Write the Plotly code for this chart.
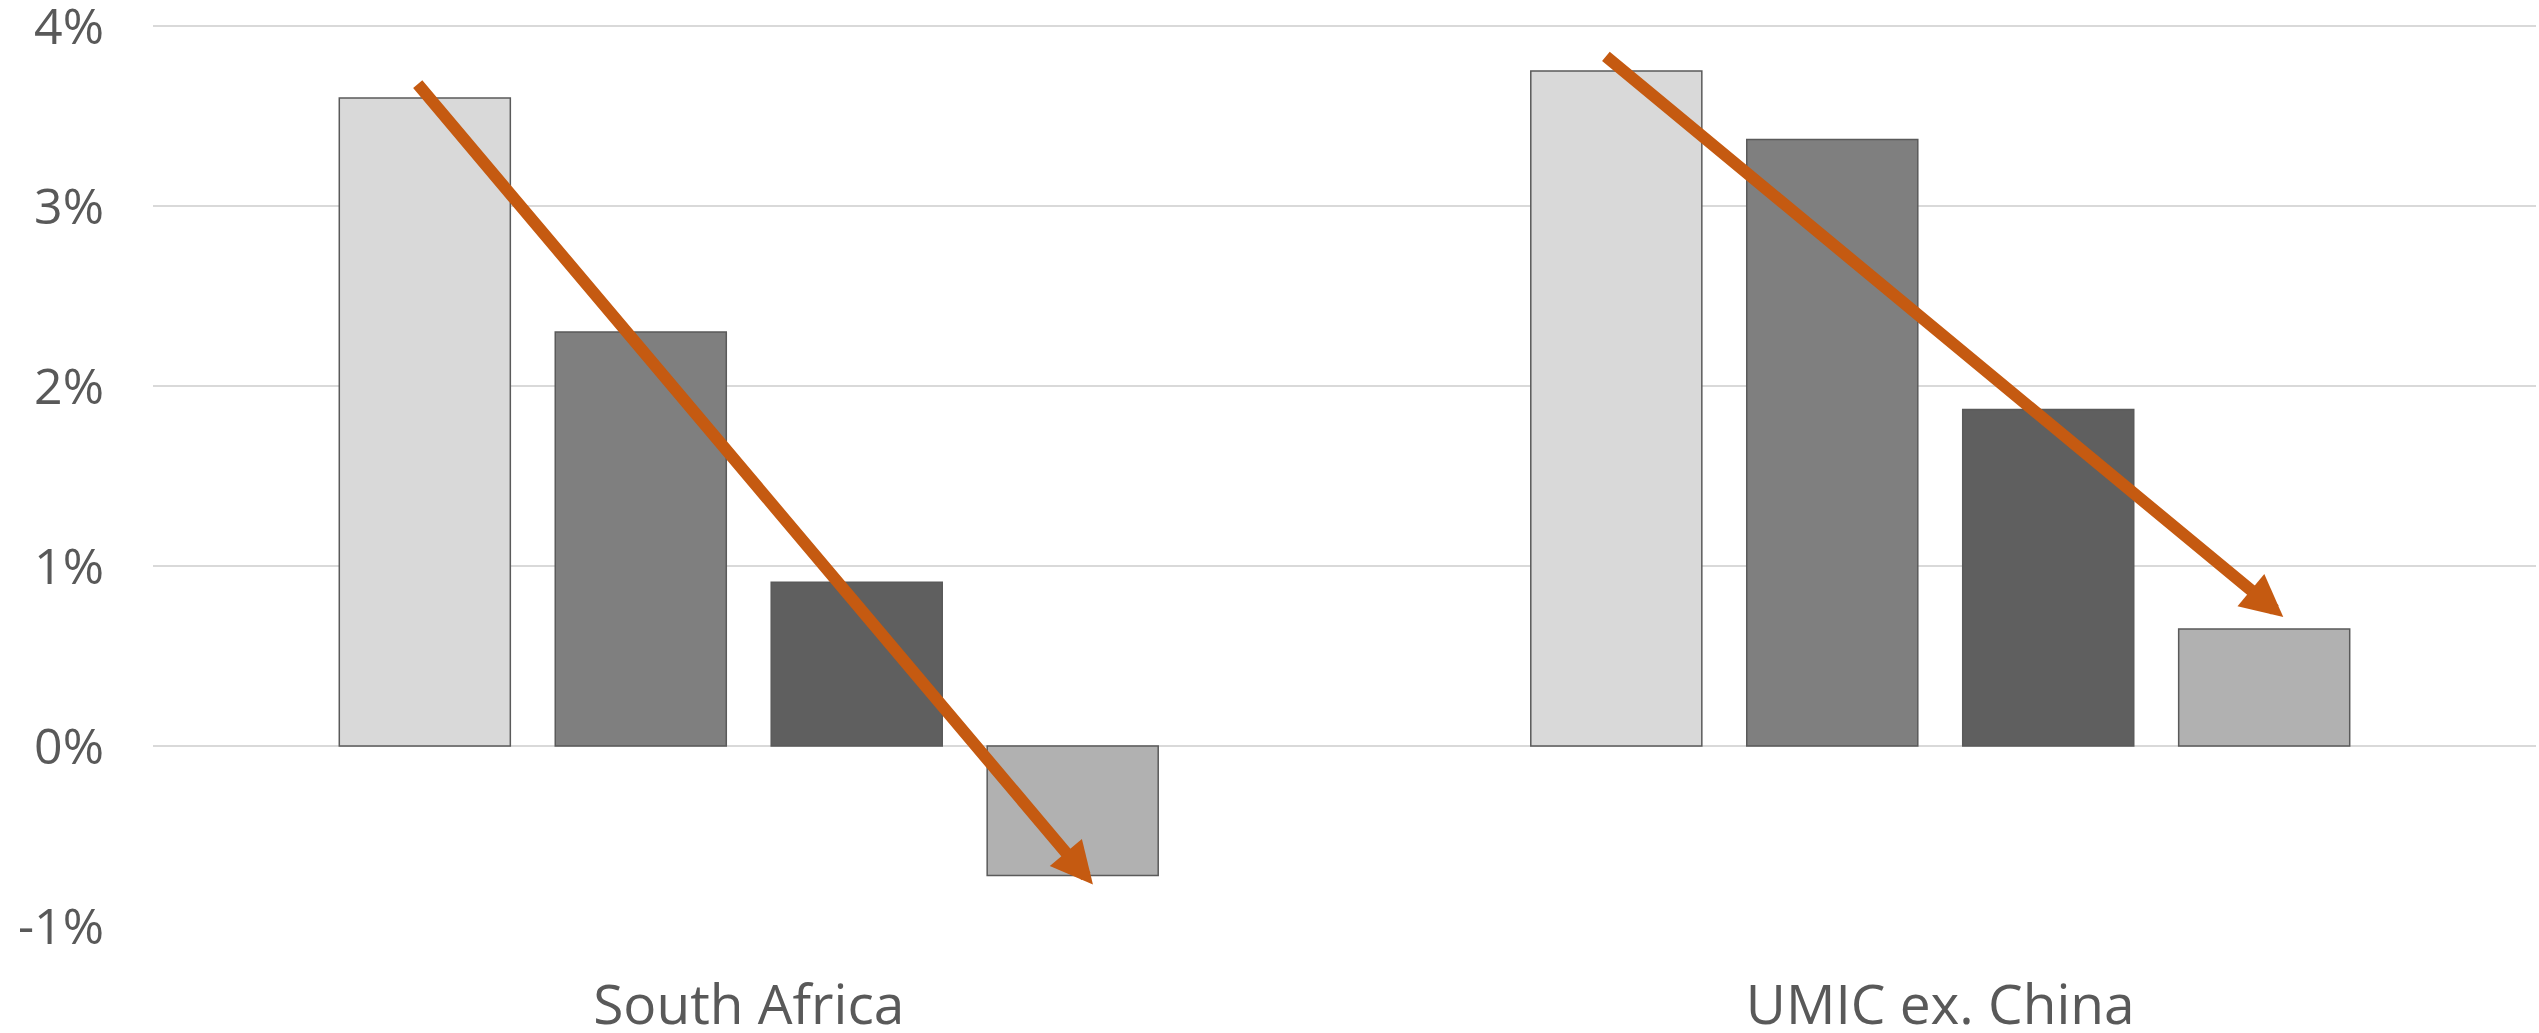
import plotly.graph_objects as go

# Growth rates (%) by region, four successive periods
categories = ["South Africa", "UMIC ex. China"]
series_names = ["Period 1", "Period 2", "Period 3", "Period 4"]
period_1 = [3.60, 3.75]
period_2 = [2.30, 3.37]
period_3 = [0.91, 1.87]
period_4 = [-0.72, 0.65]
series_values = [period_1, period_2, period_3, period_4]
series_colors = ["#D9D9D9", "#7F7F7F", "#5F5F5F", "#B1B1B1"]

y_ticks = [-1, 0, 1, 2, 3, 4]
y_tick_labels = ["-1%", "0%", "1%", "2%", "3%", "4%"]

BARGAP = 0.275
GROUPGAP = 0.208
FONT = "Open Sans"
TEXT_COLOR = "#595959"
ARROW_COLOR = "#C55A11"

fig = go.Figure()
for name, vals, col in zip(series_names, series_values, series_colors):
    fig.add_trace(go.Bar(
        x=categories, y=vals, name=name,
        marker=dict(color=col, line=dict(color="#5A5A5A", width=1.5)),
        showlegend=False,
    ))

# Trend arrows: from above the first bar of each group down to its last bar
slot = (1 - BARGAP) / len(series_values)
first_off = -1.5 * slot
last_off = 1.5 * slot
arrow_specs = [
    # (category index, tail dy above first bar, head dy relative to last bar, x nudges)
    (0, 0.085, -0.05, -0.007, 0.017),
    (1, 0.088, 0.067, -0.010, 0.016),
]
for idx, dy_tail, dy_head, dx_tail, dx_head in arrow_specs:
    fig.add_annotation(
        x=idx + last_off + dx_head, y=series_values[-1][idx] + dy_head,
        ax=idx + first_off + dx_tail, ay=series_values[0][idx] + dy_tail,
        xref="x", yref="y", axref="x", ayref="y",
        text="", showarrow=True, arrowhead=2, arrowsize=0.7,
        arrowwidth=12, arrowcolor=ARROW_COLOR, standoff=0, startstandoff=0,
    )

# a little headroom above 4% so its gridline is drawn inside the plot area
fig.update_layout(
    width=2539, height=1033,
    margin=dict(l=153, r=3, t=21, b=107),
    paper_bgcolor="white", plot_bgcolor="white",
    barmode="group", bargap=BARGAP, bargroupgap=GROUPGAP,
    font=dict(family=FONT, color=TEXT_COLOR, size=50),
)
fig.update_xaxes(
    type="category", categoryorder="array", categoryarray=categories,
    showgrid=False, showline=False, zeroline=False, ticks="",
    tickfont=dict(family=FONT, size=55, color=TEXT_COLOR),
    ticklabelstandoff=42, automargin=False,
)
fig.update_yaxes(
    range=[-1, 4.0278], tickvals=y_ticks, ticktext=y_tick_labels,
    showgrid=True, gridcolor="#D9D9D9", gridwidth=2,
    zeroline=False, showline=False, ticks="",
    tickfont=dict(family=FONT, size=50, color=TEXT_COLOR),
    ticklabelstandoff=48, ticklabeloverflow="allow", automargin=False,
)

fig.write_html("out.html")
